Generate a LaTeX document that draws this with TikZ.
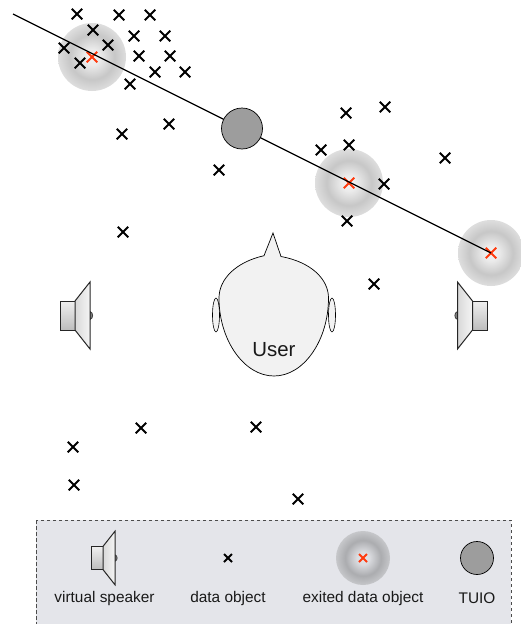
\documentclass[tikz,border=0pt]{standalone}
\usepackage{fontspec}
\setmainfont{Liberation Sans}
\usetikzlibrary{shapes.misc}
\definecolor{gA}{gray}{.96}
\definecolor{gB}{gray}{.92}
\definecolor{gC}{gray}{.78}
\definecolor{gD}{gray}{.87}
\definecolor{lA}{HTML}{E4E5EA}
\definecolor{lB}{HTML}{DADBDF}
\definecolor{lC}{HTML}{ABACAF}
\definecolor{lD}{HTML}{C6C7CA}
\pgfdeclareradialshading{glow}{\pgfpoint{0bp}{0bp}}{color(0bp)=(gA); color(6bp)=(gB); color(16.5bp)=(gC); color(25bp)=(gD); color(50bp)=(gD)}
\pgfdeclareradialshading{glowlegend}{\pgfpoint{0bp}{0bp}}{color(0bp)=(lA); color(6bp)=(lB); color(16.5bp)=(lC); color(25bp)=(lD); color(50bp)=(lD)}
\definecolor{legendbg}{HTML}{E4E5EA}
\definecolor{headfill}{HTML}{F2F2F2}
\definecolor{tuiofill}{HTML}{9D9D9D}
\definecolor{excited}{HTML}{FF3B0F}
\tikzset{
  dataobj/.style={cross out,draw=black,line width=1.8pt,minimum size=10.5pt,inner sep=0pt,outer sep=0pt},
  hotobj/.style={dataobj,draw=excited},
  legendobj/.style={dataobj,line width=2pt,minimum size=8pt},
  legendhot/.style={legendobj,draw=excited},
  tuio/.style={circle,draw=black,fill=tuiofill,line width=.7pt,inner sep=0pt,minimum size=#1},
  glowdisc/.style={circle,inner sep=0pt,minimum size=#1,shading=glow},
  legendglow/.style={circle,inner sep=0pt,minimum size=#1,shading=glowlegend},
  label/.style={font=\fontsize{15.4pt}{18pt}\selectfont,inner sep=0pt,text=black!90},
  speaker/.pic={
    \draw[line width=.8pt,draw=black!75,fill=black!50] (15,-4) .. controls (18.5,-3) and (18.5,3) .. (15,4) -- cycle;
    \shade[top color=black!6,bottom color=black!26,draw=black!85,line width=1pt] (-15,-14.5) rectangle (0,14.5);
    \shade[left color=black!15,right color=black!4,draw=black!85,line width=1pt] (0,-14.5) -- (15,-33.5) -- (15,33.5) -- (0,14.5) -- cycle;
  }
}
\begin{document}
\begin{tikzpicture}[x=1pt,y=-1pt]
\useasboundingbox (0,0) rectangle (521,624);
% glows
\node[glowdisc=68pt] (g1) at (92,57) {};
\node[glowdisc=68pt] (g2) at (349,183) {};
\node[glowdisc=66pt] (g3) at (491,253) {};
% data objects
\foreach \i/\x/\y in {1/77/14,2/119/15,3/150/15,4/93/30,5/134/36,6/165/36,7/108/45,8/64/48,9/139/56,10/170/56,11/80/63,12/155/72,13/185/72,14/130/84,15/122/134,16/169/124,17/219/170,18/346/113,19/385/107,20/321/150,21/349/145,22/445/158,23/384/184,24/347/221,25/123/232,26/374/284,27/141/428,28/256/427,29/73/447,30/74/485,31/298/499}
  \node[dataobj] (d\i) at (\x,\y) {};
\node[hotobj] (h1) at (92,57) {};
\node[hotobj] (h2) at (349,183) {};
\node[hotobj] (h3) at (491,253) {};
% ray and TUIO
\coordinate (raystart) at (13,14);
\draw[line width=1.3pt] (raystart) -- (h3.center);
\node[tuio=41pt] (t) at (242,128.5) {};
% head
\draw[line width=.6pt,fill=headfill] (216,315) ellipse (3.5 and 17);
\draw[line width=.6pt,fill=headfill] (332,315) ellipse (3.5 and 17);
\draw[line width=.7pt,fill=headfill]
  (264,255.7) -- (273,233) -- (281,256.5)
  .. controls (311,262) and (328.5,279) .. (328.5,298)
  .. controls (328.5,340) and (304,376) .. (274,376)
  .. controls (244,376) and (219,340) .. (219,298)
  .. controls (219,279) and (236,262) .. (264,255.7) -- cycle;
\node[font=\fontsize{20.4pt}{24pt}\selectfont,inner sep=0pt,text=black!90] (user) at (274,350) {User};
% speakers
\pic (sl) at (75,315.5) {speaker};
\pic[xscale=-1] (sr) at (472.5,315.5) {speaker};
% legend
\draw[fill=legendbg,draw=black!70,line width=.8pt,dash pattern=on 3.5pt off 2.5pt] (36,520) rectangle (511,640);
\pic[scale=.8] (sleg) at (103,558) {speaker};
\node[legendobj] (ld) at (228,558) {};
\node[legendglow=54pt] (lg) at (363,558) {};
\node[legendhot] (lh) at (363,558) {};
\node[tuio=33pt] (lt) at (477,558) {};
\node[label] (l1) at (104.5,598.5) {virtual speaker};
\node[label] (l2) at (228,598.5) {data object};
\node[label] (l3) at (363,598.5) {exited data object};
\node[label] (l4) at (477,598.5) {TUIO};
\end{tikzpicture}
\end{document}
